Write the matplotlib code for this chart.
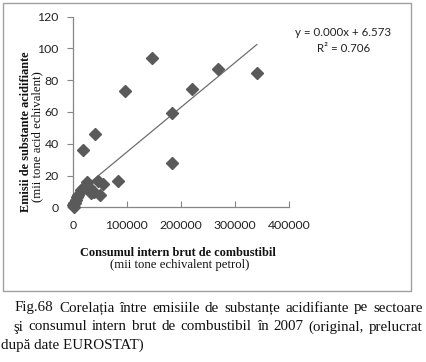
import matplotlib
matplotlib.use("Agg")
import matplotlib.pyplot as plt
from matplotlib.patches import Rectangle
import numpy as np

# Data
consum = [146000, 97000, 40300, 19600, 184000, 184000, 219600, 269000, 340000,
          83000, 56300, 46400, 50000, 25700, 34300, 30000, 14700, 18300, 39800,
          9200, 8600, 6000, 3000, 1200, 2000, 24000, 4500]
emisii = [93.8, 73.4, 45.9, 35.8, 59.1, 27.6, 74.3, 87.1, 84.3,
          16.3, 14.8, 16.5, 7.8, 15.8, 9.2, 12.5, 11.1, 12.2, 9.5,
          8.0, 6.3, 4.5, 2.5, 1.2, 0.5, 12.0, 3.0]
trend_slope = 0.000282
trend_intercept = 6.573
x_ticks = [0, 100000, 200000, 300000, 400000]
y_ticks = [0, 20, 40, 60, 80, 100, 120]

W, H = 427, 362
fig = plt.figure(figsize=(W / 100, H / 100), dpi=100)
fig.patch.set_facecolor("white")

def fx(px):
    return px / W

def fy(py):
    return 1 - py / H

# chart border
fig.patches.append(Rectangle((fx(2.7), fy(290.7)), fx(411) - fx(2.7), fy(2.7) - fy(290.7),
                             transform=fig.transFigure, fill=False, edgecolor="#a0a0a0", lw=1.0))

ax = fig.add_axes([fx(72.7), fy(207.3), fx(289.3) - fx(72.7), fy(16.7) - fy(207.3)])
ax.set_xlim(0, 400000)
ax.set_ylim(0, 120)
ax.set_facecolor("white")
for s in ["top", "right"]:
    ax.spines[s].set_visible(False)
for s in ["left", "bottom"]:
    ax.spines[s].set_color("#868686")
    ax.spines[s].set_linewidth(0.9)

xt = np.linspace(min(consum), max(consum), 2)
ax.plot(xt, trend_slope * xt + trend_intercept, color="#6e6e6e", lw=0.9, zorder=2)
ax.plot(consum, emisii, linestyle="none", marker="D", markersize=5.8,
        color="#5a5a5a", markeredgecolor="#5a5a5a", zorder=3, clip_on=False)

ax.set_xticks(x_ticks)
ax.set_xticklabels([str(v) for v in x_ticks])
ax.set_yticks(y_ticks)
ax.set_yticklabels([str(v) for v in y_ticks])
ax.tick_params(axis="x", direction="in", length=4, color="#868686", pad=9,
               labelsize=8.8, labelcolor="#222222")
ax.tick_params(axis="y", direction="out", length=4, color="#868686", pad=6,
               labelsize=8.8, labelcolor="#222222")
for lab in ax.get_xticklabels() + ax.get_yticklabels():
    lab.set_family("Lato")

fig.text(fx(343), fy(33), "y = 0.000x + 6.573", fontsize=8.3, family="Lato",
         color="#222222", ha="center", va="center")
fig.text(fx(343.5), fy(48), "R² = 0.706", fontsize=8.3, family="Lato",
         color="#222222", ha="center", va="center")

# axis titles
fig.text(fx(178), fy(253), "Consumul intern brut de combustibil", family="Liberation Serif",
         fontweight="bold", fontsize=8.8, ha="center", va="center", color="#111111")
fig.text(fx(180), fy(265), "(mii tone echivalent petrol)", family="Liberation Serif",
         fontsize=9.2, ha="center", va="center", color="#111111")
fig.text(fx(26), fy(132), "Emisii de substante acidifiante", family="Liberation Serif",
         fontweight="bold", fontsize=8.8, ha="center", va="center", rotation=90, color="#111111")
fig.text(fx(37.5), fy(137), "(mii tone acid echivalent)", family="Liberation Serif",
         fontsize=9.2, ha="center", va="center", rotation=90, color="#111111")

# caption (justified lines)
renderer = fig.canvas.get_renderer()

def justified(words, x0, x1, py, size):
    arts = [fig.text(0, fy(py), w, family="Liberation Serif", fontsize=size,
                     ha="left", va="center", color="#111111") for w in words]
    widths = [a.get_window_extent(renderer).width for a in arts]
    gap = (x1 - x0 - sum(widths)) / (len(words) - 1)
    x = x0
    for a, wd in zip(arts, widths):
        a.set_x(fx(x))
        x += wd + gap

cap_size = 10.8
justified("Fig.68 Corelația între emisiile de substanțe acidifiante pe sectoare".split(),
          15, 423, 308, cap_size)
justified("şi consumul intern brut de combustibil în 2007 (original, prelucrat".split(),
          13, 423, 327, cap_size)
fig.text(fx(1), fy(345), "după date EUROSTAT)", family="Liberation Serif", fontsize=cap_size,
         ha="left", va="center", color="#111111")

fig.savefig("out.png", dpi=100, facecolor="white")
